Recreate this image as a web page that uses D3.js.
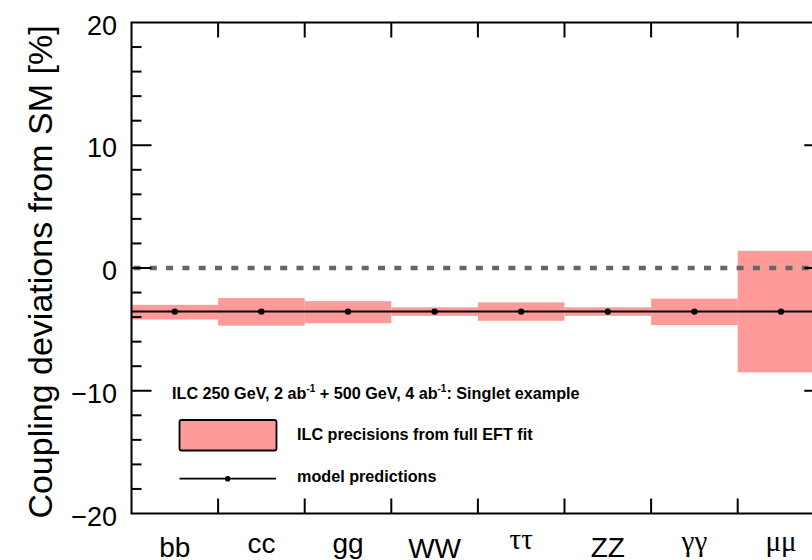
<!DOCTYPE html>
<html>
<head>
<meta charset="utf-8">
<script src="https://cdn.jsdelivr.net/npm/d3@7"></script>
<style>
  html, body { margin: 0; padding: 0; background: #fff; overflow: hidden; }
  svg { display: block; }
  text { font-family: "Liberation Sans", Arial, Helvetica, sans-serif; }
</style>
</head>
<body>
<svg id="chart" width="812" height="560"></svg>
<script>
// ---- data ----
const categories = ["bb", "cc", "gg", "WW", "ττ", "ZZ", "γγ", "μμ"];
const bandLow  = [-4.2, -4.7, -4.5, -3.9, -4.3, -3.9, -4.65, -8.5];
const bandHigh = [-3.0, -2.45, -2.7, -3.2, -2.8, -3.2, -2.5, 1.4];
const modelPred = [-3.55, -3.55, -3.55, -3.55, -3.55, -3.55, -3.55, -3.55];
const yTicks = [-20, -10, 0, 10, 20];
const yMinorTicks = d3.range(-20, 20.01, 2);
const yTitle = "Coupling deviations from SM [%]";
const legendTitle = ["ILC 250 GeV, 2 ab", "-1", " + 500 GeV, 4 ab", "-1", ": Singlet example"];
const legendBand = "ILC precisions from full EFT fit";
const legendModel = "model predictions";

// ---- layout ----
const plotLeft = 131.5, plotTop = 22.5, plotBottom = 513.5;
const bandW = 86.6;
const plotRight = plotLeft + bandW * categories.length;
const pink = "#ff9a9a";

const svg = d3.select("#chart");
const x = d3.scaleBand().domain(categories).range([plotLeft, plotRight]).padding(0);
const y = d3.scaleLinear().domain([-20, 20]).range([plotBottom, plotTop]);

// bands
svg.append("g").selectAll("rect").data(categories).join("rect")
  .attr("x", d => x(d))
  .attr("width", x.bandwidth())
  .attr("y", (d, i) => y(bandHigh[i]))
  .attr("height", (d, i) => y(bandLow[i]) - y(bandHigh[i]))
  .attr("fill", pink);

// zero dashed line
svg.append("line")
  .attr("x1", plotLeft).attr("x2", plotRight)
  .attr("y1", y(0)).attr("y2", y(0))
  .attr("stroke", "#666").attr("stroke-width", 4.5)
  .attr("stroke-dasharray", "7,9.3").attr("stroke-dashoffset", -2);

// model line + points
const pts = categories.map((c, i) => [x(c) + x.bandwidth() / 2, y(modelPred[i])]);
svg.append("path")
  .attr("d", d3.line()([[plotLeft, y(modelPred[0])], ...pts, [plotRight, y(modelPred[modelPred.length - 1])]]))
  .attr("fill", "none").attr("stroke", "#000").attr("stroke-width", 2);
svg.append("g").selectAll("circle").data(pts).join("circle")
  .attr("cx", d => d[0]).attr("cy", d => d[1]).attr("r", 3.2).attr("fill", "#000");

// frame axes
const axisG = svg.append("g").attr("stroke", "#000").attr("stroke-width", 2).attr("fill", "none");
axisG.append("rect").attr("x", plotLeft).attr("y", plotTop).attr("width", plotRight - plotLeft).attr("height", plotBottom - plotTop);

// y ticks left and right
yMinorTicks.forEach(v => {
  const major = yTicks.includes(v);
  const len = major ? 20 : 10;
  if (v === 20 || v === -20) return;
  axisG.append("line").attr("x1", plotLeft).attr("x2", plotLeft + len).attr("y1", y(v)).attr("y2", y(v));
  axisG.append("line").attr("x1", plotRight).attr("x2", plotRight - len).attr("y1", y(v)).attr("y2", y(v));
});
// x boundary ticks top and bottom
categories.slice(1).forEach(c => {
  const xb = x(c);
  axisG.append("line").attr("x1", xb).attr("x2", xb).attr("y1", plotTop).attr("y2", plotTop + 15);
  axisG.append("line").attr("x1", xb).attr("x2", xb).attr("y1", plotBottom).attr("y2", plotBottom - 15);
});

// y tick labels
svg.append("g").selectAll("text").data(yTicks).join("text")
  .attr("x", 117).attr("y", d => y(d) + 12)
  .attr("text-anchor", "end")
  .attr("font-size", 27)
  .text(d => d < 0 ? "\u2212" + Math.abs(d) : String(d));

// category labels
const greek = /[τγμ]/;
const labelBase = {"bb": 556.5, "cc": 553, "gg": 553, "WW": 557.5, "ττ": 549, "ZZ": 557, "γγ": 551, "μμ": 551};
svg.append("g").selectAll("text").data(categories).join("text")
  .attr("x", d => x(d) + x.bandwidth() / 2)
  .attr("y", d => labelBase[d])
  .attr("text-anchor", "middle")
  .attr("font-size", d => greek.test(d) ? 29 : 28)
  .style("font-family", d => greek.test(d) ? "'Liberation Serif', 'DejaVu Serif', serif" : null)
  .text(d => d);

// y title
svg.append("text")
  .attr("transform", `translate(52,${(22 + 522) / 2}) rotate(-90)`)
  .attr("text-anchor", "middle")
  .attr("font-size", 34)
  .text(yTitle);

// legend
const lt = svg.append("text").attr("x", 172).attr("y", 398.5)
  .attr("font-size", 16.2).attr("font-weight", "bold");
legendTitle.forEach((s, i) => {
  const sup = i % 2 === 1;
  const t = lt.append("tspan").text(s);
  if (sup) t.attr("font-size", 10).attr("dy", -7);
  else if (i > 0) t.attr("dy", 7);
});

svg.append("rect").attr("x", 179.5).attr("y", 420).attr("width", 97).attr("height", 30.5)
  .attr("rx", 2).attr("fill", pink).attr("stroke", "#000").attr("stroke-width", 1.8);
svg.append("text").attr("x", 297).attr("y", 440).attr("font-size", 16.2).attr("font-weight", "bold")
  .text(legendBand);

svg.append("line").attr("x1", 179.5).attr("x2", 276).attr("y1", 478.7).attr("y2", 478.7)
  .attr("stroke", "#000").attr("stroke-width", 1.8);
svg.append("circle").attr("cx", 227.7).attr("cy", 478.7).attr("r", 2.8).attr("fill", "#000");
svg.append("text").attr("x", 297).attr("y", 482).attr("font-size", 16.2).attr("font-weight", "bold")
  .text(legendModel);
</script>
</body>
</html>
